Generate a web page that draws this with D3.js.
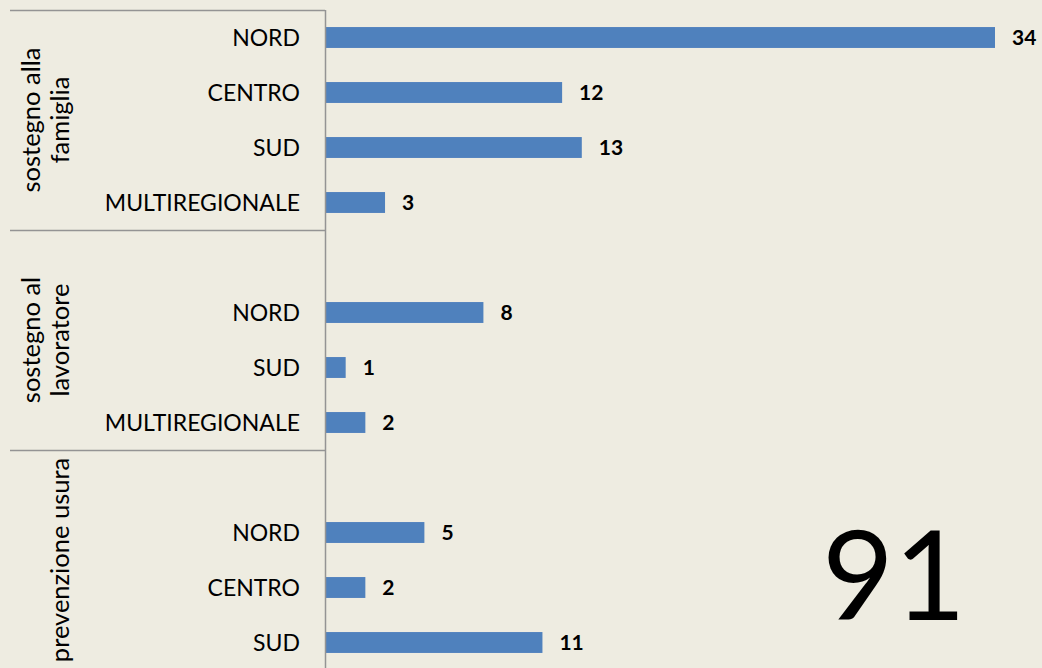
<!DOCTYPE html>
<html>
<head>
<meta charset="utf-8">
<script src="https://cdnjs.cloudflare.com/ajax/libs/d3/7.8.5/d3.min.js"></script>
<style>
  html, body { margin: 0; padding: 0; background: #EEECE1; }
  svg { display: block; }
</style>
</head>
<body>
<div id="chart"></div>
<script>
// ---- data ----
const groups = ["sostegno alla famiglia", "sostegno al lavoratore", "prevenzione usura"];
const groupLines = [["sostegno alla", "famiglia"], ["sostegno al", "lavoratore"], ["prevenzione usura"]];
// each group has 4 slots; "" = empty slot (as in the original)
const groupOf   = [0, 0, 0, 0, 1, 1, 1, 1, 2, 2, 2, 2];
const regions   = ["NORD", "CENTRO", "SUD", "MULTIREGIONALE", "", "NORD", "SUD", "MULTIREGIONALE", "", "NORD", "CENTRO", "SUD"];
const values    = [34, 12, 13, 3, null, 8, 1, 2, null, 5, 2, 11];
const totalLabel = "91";

// ---- layout ----
const W = 1042, H = 668;
const axisX = 325, topY = 10, rowH = 55;
const rows = regions.map((r, i) => ({ key: "r" + i, region: r, value: values[i], group: groupOf[i] }));

const svg = d3.select("#chart").append("svg").attr("width", W).attr("height", H);
svg.append("rect").attr("width", W).attr("height", H).attr("fill", "#EEECE1");

const y = d3.scaleBand().domain(rows.map(d => d.key)).range([topY, topY + rowH * rows.length]).paddingInner(0.62).paddingOuter(0.31);
const x = d3.scaleLinear().domain([0, 34]).range([axisX + 1, 995]);

const font = "Lato, 'Open Sans', sans-serif";

// bars
svg.append("g").selectAll("rect").data(rows.filter(d => d.value != null)).join("rect")
  .attr("x", x(0)).attr("y", d => y(d.key))
  .attr("width", d => x(d.value) - x(0)).attr("height", y.bandwidth())
  .attr("fill", "#4F81BD");

// value labels
svg.append("g").selectAll("text").data(rows.filter(d => d.value != null)).join("text")
  .attr("x", d => x(d.value) + 17).attr("y", d => y(d.key) + y.bandwidth() / 2)
  .attr("dy", "0.36em")
  .attr("font-family", font).attr("font-weight", "bold").attr("font-size", 21)
  .attr("fill", "#000").text(d => d.value);

// category labels
svg.append("g").selectAll("text").data(rows.filter(d => d.region)).join("text")
  .attr("x", axisX - 25).attr("y", d => y(d.key) + y.bandwidth() / 2)
  .attr("dy", "0.36em").attr("text-anchor", "end")
  .attr("font-family", font).attr("font-size", 23)
  .attr("fill", "#000").text(d => d.region);

// axis lines
const gridColor = "#949494";
svg.append("line").attr("x1", axisX + 0.5).attr("x2", axisX + 0.5).attr("y1", topY).attr("y2", H)
  .attr("stroke", gridColor).attr("stroke-width", 1.5);
const half = (y.step() - y.bandwidth()) / 2;
const groupBounds = groups.map((g, gi) => {
  const idx = rows.filter(r => r.group === gi);
  return { y0: y(idx[0].key) - half, y1: y(idx[idx.length - 1].key) + y.bandwidth() + half };
});
svg.append("g").selectAll("line").data(groupBounds).join("line")
  .attr("x1", 10).attr("x2", axisX).attr("y1", d => Math.round(d.y0) + 0.5).attr("y2", d => Math.round(d.y0) + 0.5)
  .attr("stroke", gridColor).attr("stroke-width", 1.5);

// group labels (rotated)
groupBounds.forEach((b, gi) => {
  const cy = (b.y0 + b.y1) / 2;
  const lines = groupLines[gi];
  const t = svg.append("text")
    .attr("transform", `translate(0,${cy}) rotate(-90)`)
    .attr("text-anchor", "middle")
    .attr("font-family", font).attr("font-size", 25.5).attr("fill", "#000");
  lines.forEach((ln, li) => {
    const xPos = 69 - (lines.length - 1 - li) * 29;
    t.append("tspan").attr("x", 0).attr("y", xPos).text(ln);
  });
});

// big total
svg.append("text").attr("x", 894).attr("y", 620).attr("text-anchor", "middle")
  .attr("font-family", font).attr("font-size", 124).attr("fill", "#000").text(totalLabel);
</script>
</body>
</html>
